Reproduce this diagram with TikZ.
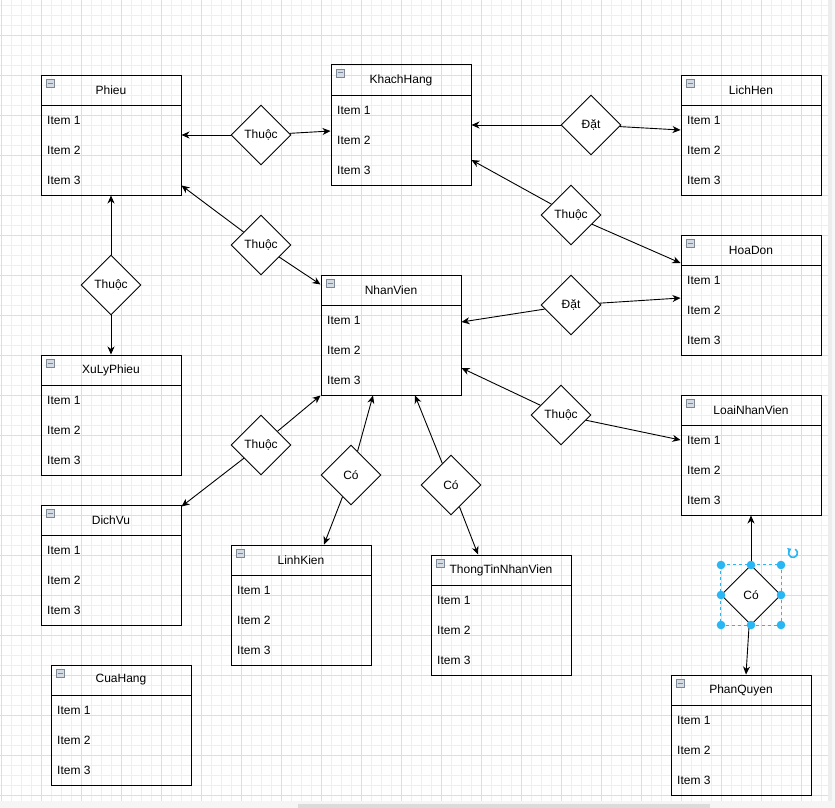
\documentclass[tikz,border=0pt]{standalone}
\usepackage{fontspec}
\setmainfont{Liberation Sans}
\usetikzlibrary{shapes.geometric,arrows.meta}

\definecolor{minorgrid}{HTML}{EFEFEF}
\definecolor{majorgrid}{HTML}{DEDEDE}
\definecolor{selblue}{HTML}{29B6F2}
\definecolor{iconfill}{HTML}{D5DBE2}
\definecolor{iconline}{HTML}{7D8896}

% entity box: name, left x, top y, title
\newcommand{\erentity}[4]{%
  \node[entity] (#1) at ({#2+70},{#3+60}) {};
  \draw[boxline] ({#2},{#3+30}) -- ({#2+140},{#3+30});
  \draw[iconbox] ({#2+5},{#3+4}) rectangle ({#2+13},{#3+12});
  \draw[iconline, line width=1pt] ({#2+6.5},{#3+8}) -- ({#2+11.5},{#3+8});
  \node[inner sep=0pt] (#1-title) at ({#2+70},{#3+15}) {#4};
  \node[item] (#1-i1) at ({#2+6},{#3+45}) {Item 1};
  \node[item] (#1-i2) at ({#2+6},{#3+75}) {Item 2};
  \node[item] (#1-i3) at ({#2+6},{#3+105}) {Item 3};
}

\begin{document}
\begin{tikzpicture}[x=1pt,y=-1pt,
  font=\fontsize{12}{14}\selectfont,
  entity/.style={draw=black, line width=1pt, minimum width=140pt, minimum height=120pt, inner sep=0pt},
  boxline/.style={draw=black, line width=1pt},
  iconbox/.style={draw=iconline, fill=iconfill, line width=0.7pt},
  item/.style={anchor=west, inner sep=0pt},
  rel/.style={diamond, aspect=1, draw=black, fill=white, line width=0.9pt,
    minimum width=60pt, minimum height=60pt, inner sep=0pt},
  link/.style={draw=black, line width=0.9pt, -{Stealth[length=8pt,width=7pt,inset=2.5pt]}},
  handle/.style={fill=selblue, draw=none},
]
\useasboundingbox (0,0) rectangle (835,808);

% canvas background and grid
\fill[white] (0,0) rectangle (835,808);
\foreach \gx in {1,11,...,821} \draw[minorgrid, line width=0.8pt] (\gx,0) -- (\gx,801);
\foreach \gy in {5,15,...,795} \draw[minorgrid, line width=0.8pt] (0,\gy) -- (828,\gy);
\foreach \gx in {1,41,...,801} \draw[majorgrid, line width=0.9pt] (\gx,0) -- (\gx,801);
\foreach \gy in {35,75,...,795} \draw[majorgrid, line width=0.9pt] (0,\gy) -- (828,\gy);

% scroll bars
\fill[white!96!black] (0,801) rectangle (835,808);
\fill[white!86!black] (298,804) rectangle (710,808);
\fill[white!93!black] (828,0) rectangle (832,801);
\fill[white!97!black] (832,0) rectangle (835,801);

% entities
\erentity{phieu}{41}{75}{Phieu}
\erentity{kh}{331}{65}{KhachHang}
\erentity{lh}{681}{75}{LichHen}
\erentity{hd}{681}{235}{HoaDon}
\erentity{nv}{321}{275}{NhanVien}
\erentity{xlp}{41}{355}{XuLyPhieu}
\erentity{lnv}{681}{395}{LoaiNhanVien}
\erentity{dv}{41}{505}{DichVu}
\erentity{lk}{231}{545}{LinhKien}
\erentity{tt}{431}{555}{ThongTinNhanVien}
\erentity{ch}{51}{665}{CuaHang}
\erentity{pq}{671}{675}{PhanQuyen}

% relationships
\node[rel] (r1) at (261,135) {Thuộc};
\node[rel] (r2) at (591,125) {Đặt};
\node[rel] (r3) at (571,215) {Thuộc};
\node[rel] (r4) at (261,245) {Thuộc};
\node[rel] (r5) at (111,285) {Thuộc};
\node[rel] (r6) at (571,305) {Đặt};
\node[rel] (r7) at (561,415) {Thuộc};
\node[rel] (r8) at (261,445) {Thuộc};
\node[rel] (r9) at (351,475) {Có};
\node[rel] (r10) at (451,485) {Có};
\node[rel] (r11) at (751,595) {Có};

% connectors
\draw[link] (r1) -- (phieu.east);
\draw[link] (r1) -- ([yshift=-6pt]kh.west);
\draw[link] (r2) -- (kh.east);
\draw[link] (r2) -- ([yshift=5pt]lh.west);
\draw[link] (r3) -- ([yshift=-35pt]kh.east);
\draw[link] (r3) -- ([yshift=32pt]hd.west);
\draw[link] (r4) -- ([yshift=10pt]phieu.south east);
\draw[link] (r4) -- ([yshift=-10pt]nv.north west);
\draw[link] (r5) -- (phieu.south);
\draw[link] (r5) -- (xlp.north);
\draw[link] (r6) -- ([yshift=13pt]nv.east);
\draw[link] (r6) -- ([yshift=-3pt]hd.west);
\draw[link] (r7) -- ([yshift=-33pt]nv.east);
\draw[link] (r7) -- ([yshift=15pt]lnv.west);
\draw[link] (r8) -- (nv.south west);
\draw[link] (r8) -- ([yshift=-2pt]dv.north east);
\draw[link] (r9) -- ([xshift=-18pt]nv.south);
\draw[link] (r9) -- ([xshift=23pt]lk.north);
\draw[link] (r10) -- ([xshift=24pt]nv.south);
\draw[link] (r10) -- ([xshift=-23pt]tt.north);
\draw[link] (r11) -- (lnv.south);
\draw[link] (r11) -- ([xshift=5pt]pq.north);

% selection frame around the last relationship
\draw[selblue, line width=0.8pt, dash pattern=on 3pt off 3pt] (r11.west |- r11.north) rectangle (r11.east |- r11.south);
\foreach \hx in {721,751,781} {
  \fill[handle] (\hx,565) circle[radius=4.3];
  \fill[handle] (\hx,625) circle[radius=4.3];
}
\fill[handle] (721,595) circle[radius=4.3];
\fill[handle] (781,595) circle[radius=4.3];

% rotation handle
\begin{scope}[shift={(793,553)}, y=1pt]
  \draw[selblue, line width=1.6pt, -{Triangle[length=3.2pt,width=5pt]}]
    (60:4.5) arc[start angle=60, end angle=-245, radius=4.5];
\end{scope}
\end{tikzpicture}
\end{document}
